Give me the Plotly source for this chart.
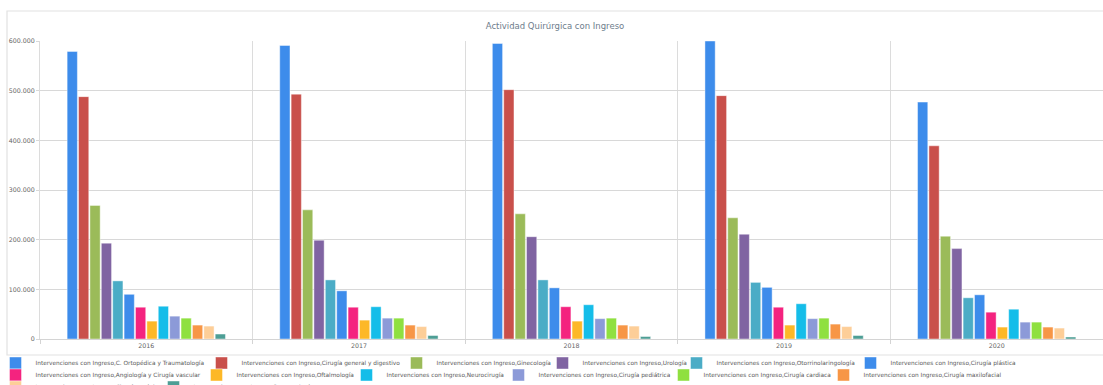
import plotly.graph_objects as go

# Years on the category axis
years = ["2016", "2017", "2018", "2019", "2020"]

# Specialty labels (legend text)
labels = [
    "Intervenciones con Ingreso,C. Ortopédica y Traumatología",
    "Intervenciones con Ingreso,Cirugía general y digestivo",
    "Intervenciones con Ingreso,Ginecología",
    "Intervenciones con Ingreso,Urología",
    "Intervenciones con Ingreso,Otorrinolaringología",
    "Intervenciones con Ingreso,Cirugía plástica",
    "Intervenciones con Ingreso,Angiología y Cirugía vascular",
    "Intervenciones con Ingreso,Oftalmología",
    "Intervenciones con Ingreso,Neurocirugía",
    "Intervenciones con Ingreso,Cirugía pediátrica",
    "Intervenciones con Ingreso,Cirugía cardiaca",
    "Intervenciones con Ingreso,Cirugía maxilofacial",
    "Intervenciones con Ingreso,Cirugía torácica",
    "Intervenciones con Ingreso,Dermatología",
]

# Interventions per year, one list per specialty
ortopedia = [579000, 591000, 595000, 600000, 477000]
cirugia_general = [488000, 493000, 502000, 490000, 389000]
ginecologia = [269000, 260000, 252000, 244000, 207000]
urologia = [193000, 199000, 206000, 211000, 182000]
otorrino = [117000, 119000, 119000, 114000, 83000]
plastica = [90000, 97000, 103000, 104000, 89000]
angiologia = [64000, 64000, 65000, 64000, 54000]
oftalmologia = [36000, 38000, 36000, 28000, 24000]
neurocirugia = [66000, 65000, 69000, 71000, 60000]
pediatrica = [46000, 42000, 41000, 41000, 34000]
cardiaca = [42000, 42000, 42000, 42000, 34000]
maxilofacial = [28000, 28000, 28000, 30000, 24000]
toracica = [26000, 25000, 26000, 25000, 22000]
dermatologia = [10000, 7000, 5000, 7000, 4000]

series = [ortopedia, cirugia_general, ginecologia, urologia, otorrino, plastica,
          angiologia, oftalmologia, neurocirugia, pediatrica, cardiaca,
          maxilofacial, toracica, dermatologia]

colors = ["#3d8ceb", "#c9504b", "#9bbb59", "#8064a2", "#4bacc6", "#3d8ceb",
          "#f4237f", "#fdb827", "#15bde9", "#8c9ad8", "#8fe040", "#f79646",
          "#fdce98", "#4d9e95"]

# Plot-area geometry in pixels (used to place legends/frame in paper units)
W, H = 1103, 385
ML, MR, MT, MB = 40, 0, 41, 46
PW, PH = W - ML - MR, H - MT - MB


def px_to_paper_x(px):
    return (px - ML) / PW


def px_to_paper_y(py):
    return (H - MB - py) / PH


# One single-entry legend per specialty, laid out in rows under the chart
legend_px = [12, 218, 413, 559, 693, 867, 12, 213, 363, 515, 680, 840, 12, 170]
legend_py = [363] * 6 + [375] * 6 + [387] * 2
symbol_offset = 16.5

fig = go.Figure()
for i, (name, vals, col) in enumerate(zip(labels, series, colors)):
    fig.add_trace(go.Bar(
        x=years, y=vals, name=name,
        marker=dict(color=col, line=dict(color="rgba(255,255,255,0.55)", width=0.8)),
        legend="legend" if i == 0 else f"legend{i + 1}",
    ))

legend_common = dict(
    orientation="h", xref="paper", yref="paper", xanchor="left", yanchor="middle",
    bgcolor="rgba(0,0,0,0)", borderwidth=0,
    font=dict(family="DejaVu Sans", size=5.8, color="#5a5a5a"),
)
layout_legends = {}
for i, (lx, ly) in enumerate(zip(legend_px, legend_py)):
    key = "legend" if i == 0 else f"legend{i + 1}"
    layout_legends[key] = dict(legend_common, x=px_to_paper_x(lx - symbol_offset),
                               y=px_to_paper_y(ly))

fig.update_layout(
    width=W, height=H,
    margin=dict(l=ML, r=MR, t=MT, b=MB, autoexpand=False),
    paper_bgcolor="white", plot_bgcolor="white",
    separators=",.",
    barmode="group", bargap=0.25, bargroupgap=0.1,
    title=dict(text="Actividad Quirúrgica con Ingreso", x=555 / W, xref="container",
               xanchor="center", y=1 - 26 / H, yref="container", yanchor="middle",
               font=dict(family="DejaVu Sans", size=8.5, color="#6e7d8c")),
    xaxis=dict(type="category", tickson="boundaries", showgrid=True,
               gridcolor="#dcdcdc", gridwidth=1.3, showline=True, linecolor="#d4d4d4",
               ticks="outside", ticklen=4, tickcolor="#d4d4d4",
               tickfont=dict(family="DejaVu Sans", size=6.3, color="#666666")),
    yaxis=dict(range=[0, 600000], dtick=100000, tickformat=",d", showgrid=True,
               gridcolor="#d8d8d8", gridwidth=1, zeroline=False, showline=True,
               linecolor="#dcdcdc", ticks="outside", ticklen=3, tickcolor="#d8d8d8",
               tickfont=dict(family="DejaVu Sans", size=6.3, color="#666666")),
    showlegend=True,
    **layout_legends,
)

# Light frame around the chart
fig.add_shape(type="rect", xref="paper", yref="paper",
              x0=px_to_paper_x(7), x1=px_to_paper_x(1110),
              y0=px_to_paper_y(355), y1=px_to_paper_y(11),
              line=dict(color="#e2e2e2", width=1.2), fillcolor="rgba(0,0,0,0)",
              layer="below")

fig.write_html("out.html")
